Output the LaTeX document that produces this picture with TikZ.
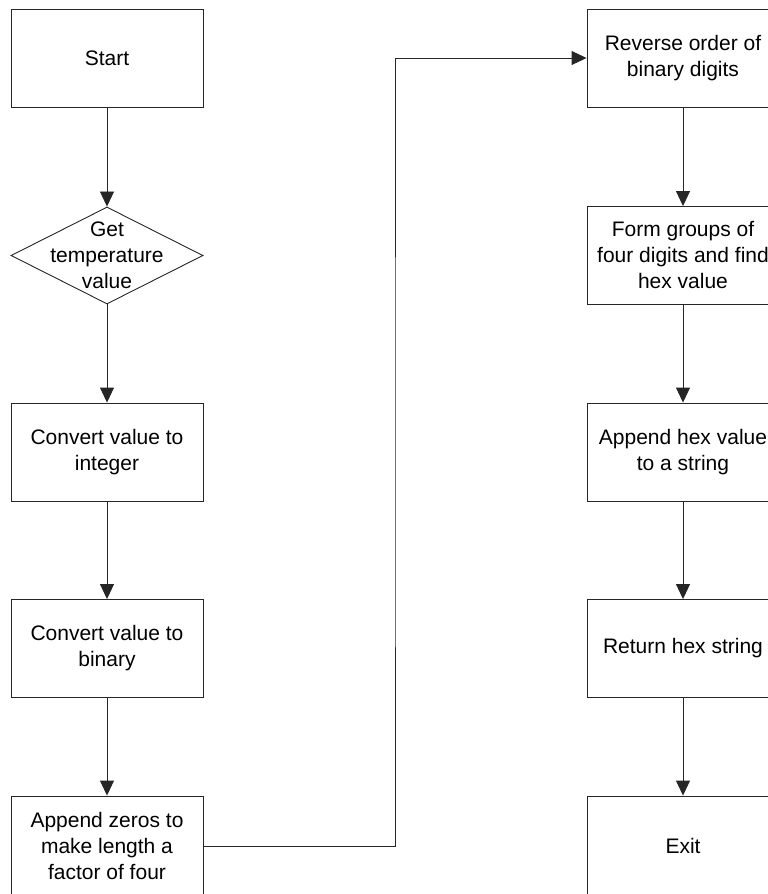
\documentclass[tikz,border=0pt]{standalone}
\usepackage{fontspec}
\setmainfont{Liberation Sans}
\usetikzlibrary{shapes.geometric,arrows.meta,calc}

\tikzset{
  base/.style={font=\fontsize{21}{26}\selectfont, align=center},
  stepbox/.style={base, draw=black!85, line width=0.9pt, rectangle,
    minimum width=192pt, minimum height=98pt, inner sep=0pt},
  decision/.style={draw=black!85, line width=0.9pt, diamond,
    minimum width=192pt, minimum height=97pt, inner sep=0pt},
  flow/.style={draw=black!85, line width=0.9pt,
    -{Triangle[length=15pt,width=14pt]}},
}

\begin{document}
\begin{tikzpicture}[x=1pt,y=-1pt]
  \useasboundingbox (0,0) rectangle (768,894);
  \clip (0,0) rectangle (768,894);

  % left column
  \node[stepbox] (start) at (107,58) {Start};
  \node[decision] (get) at (107,255.5) {};
  \node[base] (getlabel) at (get) {Get\\temperature\\value};
  \node[stepbox] (toint) at (107,452) {Convert value to\\integer};
  \node[stepbox] (tobin) at (107,648.5) {Convert value to\\binary};
  \node[stepbox, minimum height=100pt] (zeros) at (107,846) {Append zeros to\\make length a\\factor of four};

  % right column
  \node[stepbox] (rev) at (683,58) {Reverse order of\\binary digits};
  \node[stepbox] (groups) at (683,255.5) {Form groups of\\four digits and find\\hex value};
  \node[stepbox] (append) at (683,452) {Append hex value\\to a string};
  \node[stepbox] (ret) at (683,648.5) {Return hex string};
  \node[stepbox, minimum height=100pt] (exit) at (683,846) {Exit};

  % connectors
  \draw[flow] (start) -- (get);
  \draw[flow] (get) -- (toint);
  \draw[flow] (toint) -- (tobin);
  \draw[flow] (tobin) -- (zeros);
  \draw[flow] (zeros.east) -| ($(zeros.east)!0.5!(rev.west)$) |- (rev.west);
  \draw[flow] (rev) -- (groups);
  \draw[flow] (groups) -- (append);
  \draw[flow] (append) -- (ret);
  \draw[flow] (ret) -- (exit);
\end{tikzpicture}
\end{document}
